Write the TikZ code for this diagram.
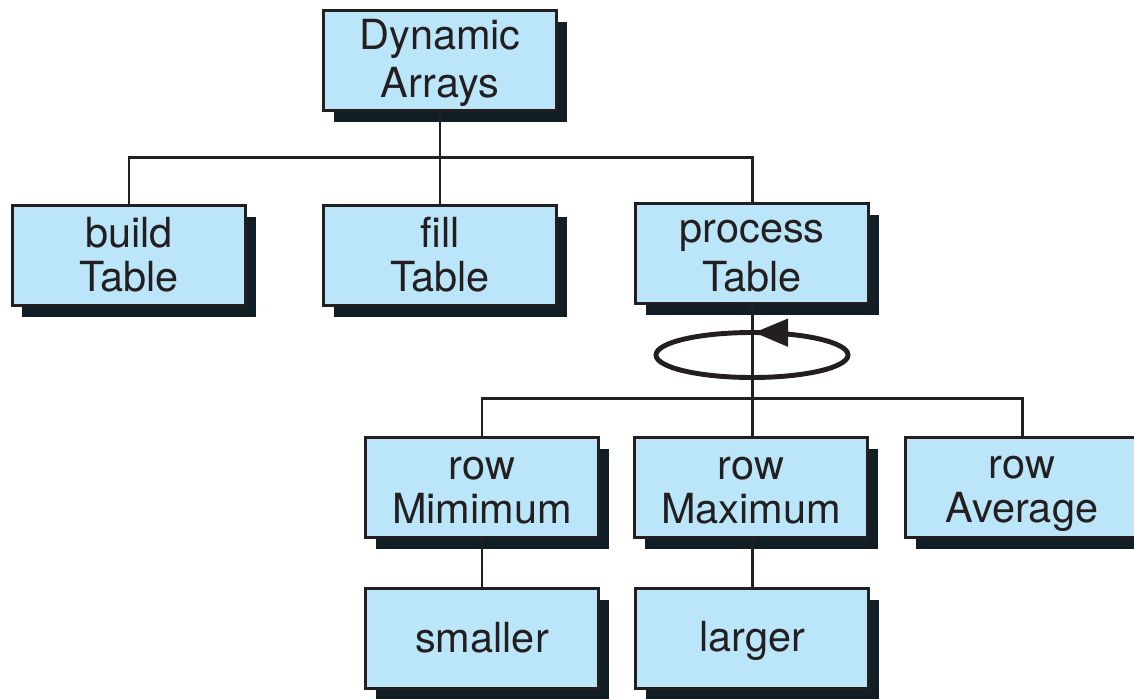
\documentclass[tikz,border=0pt]{standalone}
\usepackage{fontspec}
\setmainfont{TeX Gyre Heros}
\usetikzlibrary{shadows,arrows.meta,decorations.markings}

\definecolor{boxfill}{RGB}{187,229,248}
\definecolor{boxshade}{RGB}{18,30,38}
\definecolor{inkline}{RGB}{35,31,32}

% every line of a box label gets the same height and depth
\newcommand{\fnstrut}{\rule[-0.18\baselineskip]{0pt}{\baselineskip}}
\newcommand{\fnlabel}[2]{\fnstrut #1\\\fnstrut #2}

\begin{document}
\begin{tikzpicture}
  \tikzstyle{fn_box}  = [shape = rectangle, draw = inkline, fill = boxfill, line width = 0.85pt,
                         minimum width = 2.33cm, minimum height = 1.0cm, inner sep = 0pt,
                         align = center, text = inkline, font = \fontsize{11.8}{12.5}\selectfont,
                         drop shadow = {shadow xshift = 0.10cm, shadow yshift = -0.12cm,
                                        fill = boxshade, opacity = 1}]
  \tikzstyle{fn_link} = [draw = inkline, line width = 0.85pt]

  \clip (0,0) rectangle (11.34,-6.98);

  \node[fn_box] at (4.40,-0.60) (arrays) {\fnlabel{Dynamic}{Arrays}};

  \node[fn_box] at (1.29,-2.55) (build)  {\fnlabel{build}{Table}};
  \node[fn_box] at (4.40,-2.55) (fill)   {\fnlabel{fill}{Table}};
  \node[fn_box] at (7.52,-2.53) (proc)   {\fnlabel{process}{Table}};

  \node[fn_box] at (4.82,-4.87) (rowmin) {\fnlabel{row}{Mimimum}};
  \node[fn_box] at (7.51,-4.87) (rowmax) {\fnlabel{row}{Maximum}};
  \node[fn_box] at (10.22,-4.87) (rowavg) {\fnlabel{row}{Average}};

  \node[fn_box] at (4.82,-6.38) (smaller) {\fnstrut smaller};
  \node[fn_box] at (7.52,-6.38) (larger)  {\fnstrut larger};

  % junctions on the two buses
  \coordinate (bus_top) at (4.40,-1.57);
  \coordinate (bus_row) at (7.52,-3.98);

  \draw[fn_link]
    (arrays.south) -- (fill.north)
    (build.north) |- (bus_top) -| (proc.north)
    (proc.south) -- (proc.south |- rowmax.north)
    (rowmin.north) |- (bus_row) -| (rowavg.north)
    (rowmin.south) -- (smaller.north)
    (rowmax.south -| larger.north) -- (larger.north)
  ;

  % loop marker over the processTable call
  \draw[inkline, line width = 1.4pt,
        postaction = {decorate, decoration = {markings,
          mark = at position 0.245 with {\arrow{Triangle[length=0.34cm, width=0.27cm]}}}}]
    (7.52,-3.55) ellipse [x radius = 0.96cm, y radius = 0.225cm];
\end{tikzpicture}
\end{document}
